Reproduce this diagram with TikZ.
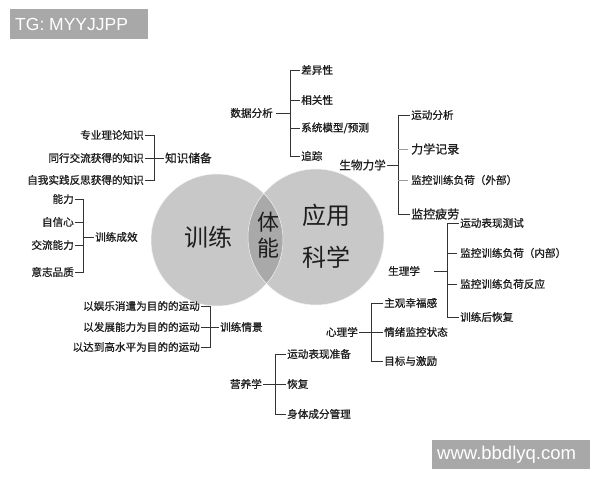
\documentclass[tikz,border=0pt]{standalone}
\usepackage{fontspec}
\setmainfont{Noto Sans CJK SC}
\newfontfamily\lblfont{Noto Sans CJK SC}[RawFeature={embolden=0.9}]
\newfontfamily\latfont{Liberation Sans}
\definecolor{txt}{HTML}{1E1E1E}
\definecolor{lnc}{HTML}{333333}
\definecolor{lnl}{HTML}{9A9A9A}
\definecolor{cgray}{HTML}{C8C8C8}
\definecolor{cdark}{HTML}{A9A9A9}
\definecolor{wmgray}{HTML}{A8A8A8}
\begin{document}
\begin{tikzpicture}[x=1pt,y=-1pt,
  lf/.style={font=\lblfont\fontsize{10.6}{12}\selectfont, inner sep=1pt, text=txt},
  lfb/.style={font=\lblfont\fontsize{12}{13}\selectfont, inner sep=1pt, text=txt},
  hb/.style={font=\lblfont\fontsize{11.6}{13}\selectfont, inner sep=1pt, text=txt},
  big/.style={font=\fontsize{24}{26}\selectfont, text=txt, inner sep=0pt},
  bigs/.style={font=\fontsize{22}{24}\selectfont, text=txt, inner sep=0pt},
  ln/.style={draw=lnc, line width=0.9pt},
  lnlight/.style={draw=lnl, line width=0.9pt},
  wmtext/.style={text=white, font=\latfont\fontsize{17.5}{20}\selectfont, inner sep=0pt, anchor=west}]
\useasboundingbox (0,0) rectangle (600,480);
\fill[white] (0,0) rectangle (600,480);

% watermarks
\fill[wmgray] (10,9) rectangle (148,39);
\node[wmtext] (wm1) at (15,24.5) {TG: MYYJJPP};
\fill[wmgray] (432,440) rectangle (590,469);
\node[wmtext, font=\latfont\fontsize{18.5}{20}\selectfont] (wm2) at (437,454.5) {www.bbdlyq.com};

% venn
\fill[cgray] (217,240) circle[radius=66pt];
\fill[cgray] (316,237) circle[radius=68pt];
\begin{scope}
  \clip (217,240) circle[radius=66pt];
  \fill[cdark] (316,237) circle[radius=68pt];
\end{scope}
\draw[white!80!cgray, line width=0.5pt] (217,240) circle[radius=66pt];
\draw[white!80!cgray, line width=0.5pt] (316,237) circle[radius=68pt];
\node[big] (xl) at (208,237) {训练};
\node[bigs] (ti) at (268,222) {体};
\node[bigs] (ne) at (268,248) {能};
\node[big] (yy) at (326,215) {应用};
\node[big] (kx) at (326,257) {科学};

% knowledge
\node[lf, anchor=east] (k1) at (145,135) {专业理论知识};
\node[lf, anchor=east] (k2) at (145,158) {同行交流获得的知识};
\node[lf, anchor=east] (k3) at (145,180) {自我实践反思获得的知识};
\coordinate (ks) at (154,158);
\node[hb, anchor=west] (kh) at (164,158) {知识储备};
\draw[ln] (k1.east) -- (k1.east -| ks) -- (k3.east -| ks) -- (k3.east);
\draw[ln] (k2.east) -- (kh.west);

% training effect
\node[lf, anchor=east] (e1) at (75,199) {能力};
\node[lf, anchor=east] (e2) at (75,222) {自信心};
\node[lf, anchor=east] (e3) at (75,245) {交流能力};
\node[lf, anchor=east] (e4) at (75,272) {意志品质};
\coordinate (es) at (83,237);
\node[lf, anchor=west] (eh) at (94,237) {训练成效};
\draw[ln] (e1.east) -- (e1.east -| es) -- (e4.east -| es) -- (e4.east);
\draw[ln] (e2.east) -- (e2.east -| es);
\draw[ln] (e3.east) -- (e3.east -| es);
\draw[ln] (es) -- (eh.west);

% data analysis
\node[lf, anchor=east, inner xsep=3pt] (dh) at (276,113) {数据分析};
\coordinate (ds) at (290,113);
\node[lf, anchor=west] (d1) at (300,70) {差异性};
\node[lf, anchor=west] (d2) at (300,100) {相关性};
\node[lf, anchor=west] (d3) at (300,128) {系统模型/预测};
\node[lf, anchor=west] (d4) at (300,156) {追踪};
\draw[ln] (d1.west) -- (d1.west -| ds) -- (d4.west -| ds) -- (d4.west);
\draw[ln] (d2.west) -- (d2.west -| ds);
\draw[ln] (d3.west) -- (d3.west -| ds);
\draw[ln] (dh.east) -- (ds);

% biomechanics
\node[hb, anchor=east] (bh) at (387,165) {生物力学};
\coordinate (bs) at (398,165);
\node[lf, anchor=west] (b1) at (410,115) {运动分析};
\node[lfb, anchor=west] (b2) at (410,149) {力学记录};
\node[lf, anchor=west] (b3) at (410,180) {监控训练负荷（外部）};
\node[lfb, anchor=west] (b4) at (410,214) {监控疲劳};
\draw[ln] (b1.west) -- (b1.west -| bs) -- (b4.west -| bs) -- (b4.west);
\draw[lnlight] (b2.west -| bs) -- ++(10,0);
\draw[lnlight] (b3.west -| bs) -- ++(10,0);
\draw[ln] (bh.east) -- (bs);

% physiology
\node[lf, anchor=west] (ph) at (387,271) {生理学};
\coordinate (phe) at (434,271);
\coordinate (ps) at (447,271);
\node[lf, anchor=west] (p1) at (459,223) {运动表现测试};
\node[lf, anchor=west] (p2) at (459,253) {监控训练负荷（内部）};
\node[lf, anchor=west] (p3) at (459,284) {监控训练负荷反应};
\node[lf, anchor=west] (p4) at (459,317) {训练后恢复};
\draw[ln] (p1.west) -- (p1.west -| ps) -- (p4.west -| ps) -- (p4.west);
\draw[ln] (p2.west -| ps) -- ++(10,0);
\draw[ln] (p3.west -| ps) -- ++(10,0);
\draw[ln] (phe) -- (ps);

% psychology
\node[lf, anchor=east] (sh) at (359,332) {心理学};
\coordinate (ss) at (371,332);
\node[lf, anchor=west] (s1) at (383,303) {主观幸福感};
\node[lf, anchor=west] (s2) at (383,332) {情绪监控状态};
\node[lf, anchor=west] (s3) at (383,361) {目标与激励};
\draw[ln] (s1.west) -- (s1.west -| ss) -- (s3.west -| ss) -- (s3.west);
\draw[ln] (sh.east) -- (s2.west);

% training scenario
\node[lf, anchor=east] (c1) at (201,306) {以娱乐消遣为目的的运动};
\node[lf, anchor=east] (c2) at (201,327) {以发展能力为目的的运动};
\node[lf, anchor=east] (c3) at (201,347) {以达到高水平为目的的运动};
\coordinate (cs) at (210,327);
\node[lf, anchor=west] (ch) at (219,327) {训练情景};
\draw[ln] (c1.east) -- (c1.east -| cs) -- (c3.east -| cs) -- (c3.east);
\draw[ln] (c2.east) -- (ch.west);

% nutrition
\node[lf, anchor=east] (nh) at (263,384) {营养学};
\coordinate (ns) at (275,384);
\node[lf, anchor=west] (n1) at (286,354) {运动表现准备};
\node[lf, anchor=west] (n2) at (286,384) {恢复};
\node[lf, anchor=west] (n3) at (286,414) {身体成分管理};
\draw[ln] (n1.west) -- (n1.west -| ns) -- (n3.west -| ns) -- (n3.west);
\draw[ln] (nh.east) -- (n2.west);
\end{tikzpicture}
\end{document}
